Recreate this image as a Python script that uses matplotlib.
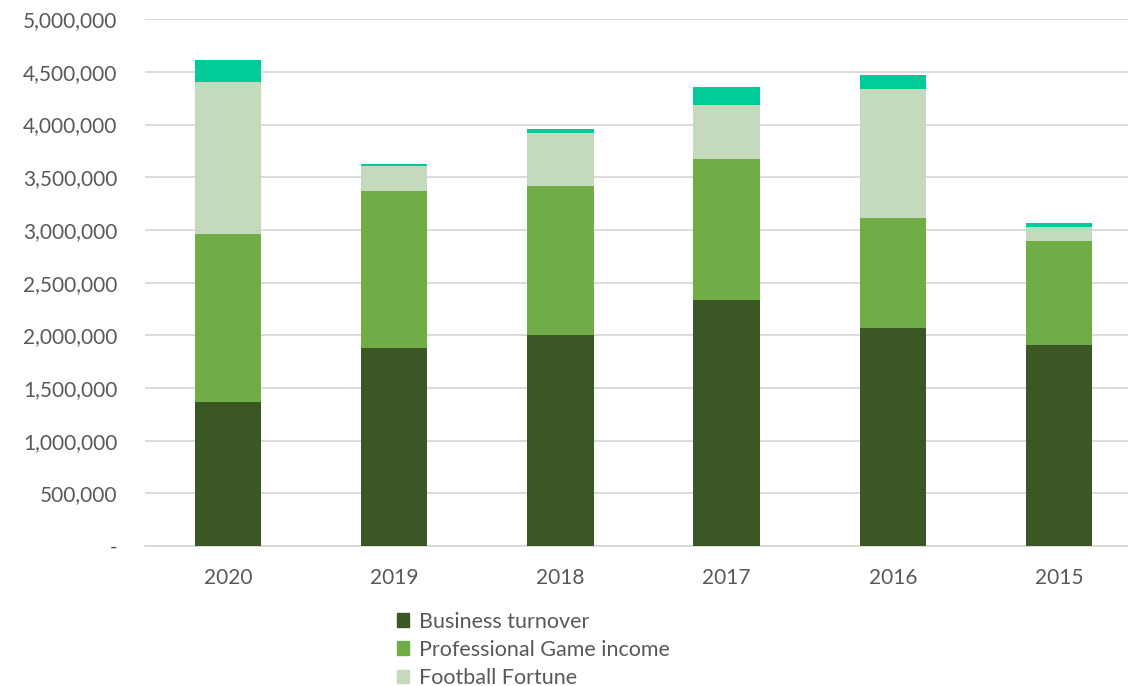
import matplotlib.pyplot as plt
import numpy as np
from matplotlib.ticker import FuncFormatter, MultipleLocator
from matplotlib.patches import Patch

years = ["2020", "2019", "2018", "2017", "2016", "2015"]
business_turnover = [1370000, 1880000, 2005000, 2335000, 2070000, 1905000]
professional_game = [1590000, 1490000, 1415000, 1340000, 1045000, 990000]
football_fortune = [1440000, 237000, 500000, 510000, 1225000, 130000]
other_income = [210000, 20000, 38000, 170000, 130000, 38000]

series = [
    ("Business turnover", business_turnover, "#3A5724"),
    ("Professional Game income", professional_game, "#70AD47"),
    ("Football Fortune", football_fortune, "#C5D9BD"),
    ("Other income", other_income, "#00CC99"),
]

plt.rcParams["font.family"] = ["Lato", "DejaVu Sans"]
text_col = "#595959"

fig = plt.figure(figsize=(11.28, 6.86), dpi=100)
# plot area runs past the right edge of the figure
ax = fig.add_axes([0.1285, 0.204, 0.884, 0.768])

x = np.arange(len(years))
bottom = np.zeros(len(years))
for name, vals, col in series:
    ax.bar(x, vals, width=0.40, bottom=bottom, color=col, zorder=3, label=name)
    bottom += np.array(vals)

ax.set_xlim(-0.5, len(years) - 0.5)
ax.set_ylim(0, 5000000)
ax.yaxis.set_major_locator(MultipleLocator(500000))
ax.yaxis.set_major_formatter(FuncFormatter(lambda v, p: "-" if v == 0 else f"{v:,.0f}"))
ax.set_xticks(x)
ax.set_xticklabels(years)

ax.grid(axis="y", color="#D9D9D9", linewidth=1.3, zorder=0)
for s in ["top", "right", "left"]:
    ax.spines[s].set_visible(False)
ax.spines["bottom"].set_color("#D9D9D9")
ax.spines["bottom"].set_linewidth(1.3)
ax.tick_params(axis="both", length=0, colors=text_col, labelsize=15)
ax.tick_params(axis="y", pad=20)
ax.tick_params(axis="x", pad=16)

# legend: first three series only
handles = [Patch(color=c, label=n) for n, _, c in series[:3]]
fig.legend(handles=handles, loc="upper left", bbox_to_anchor=(0.342, 0.124),
           frameon=False, fontsize=15.5, labelcolor=text_col,
           handlelength=0.6, handleheight=0.6, handletextpad=0.45,
           labelspacing=0.38, borderpad=0)

fig.savefig("out.png", dpi=100, facecolor="white")
